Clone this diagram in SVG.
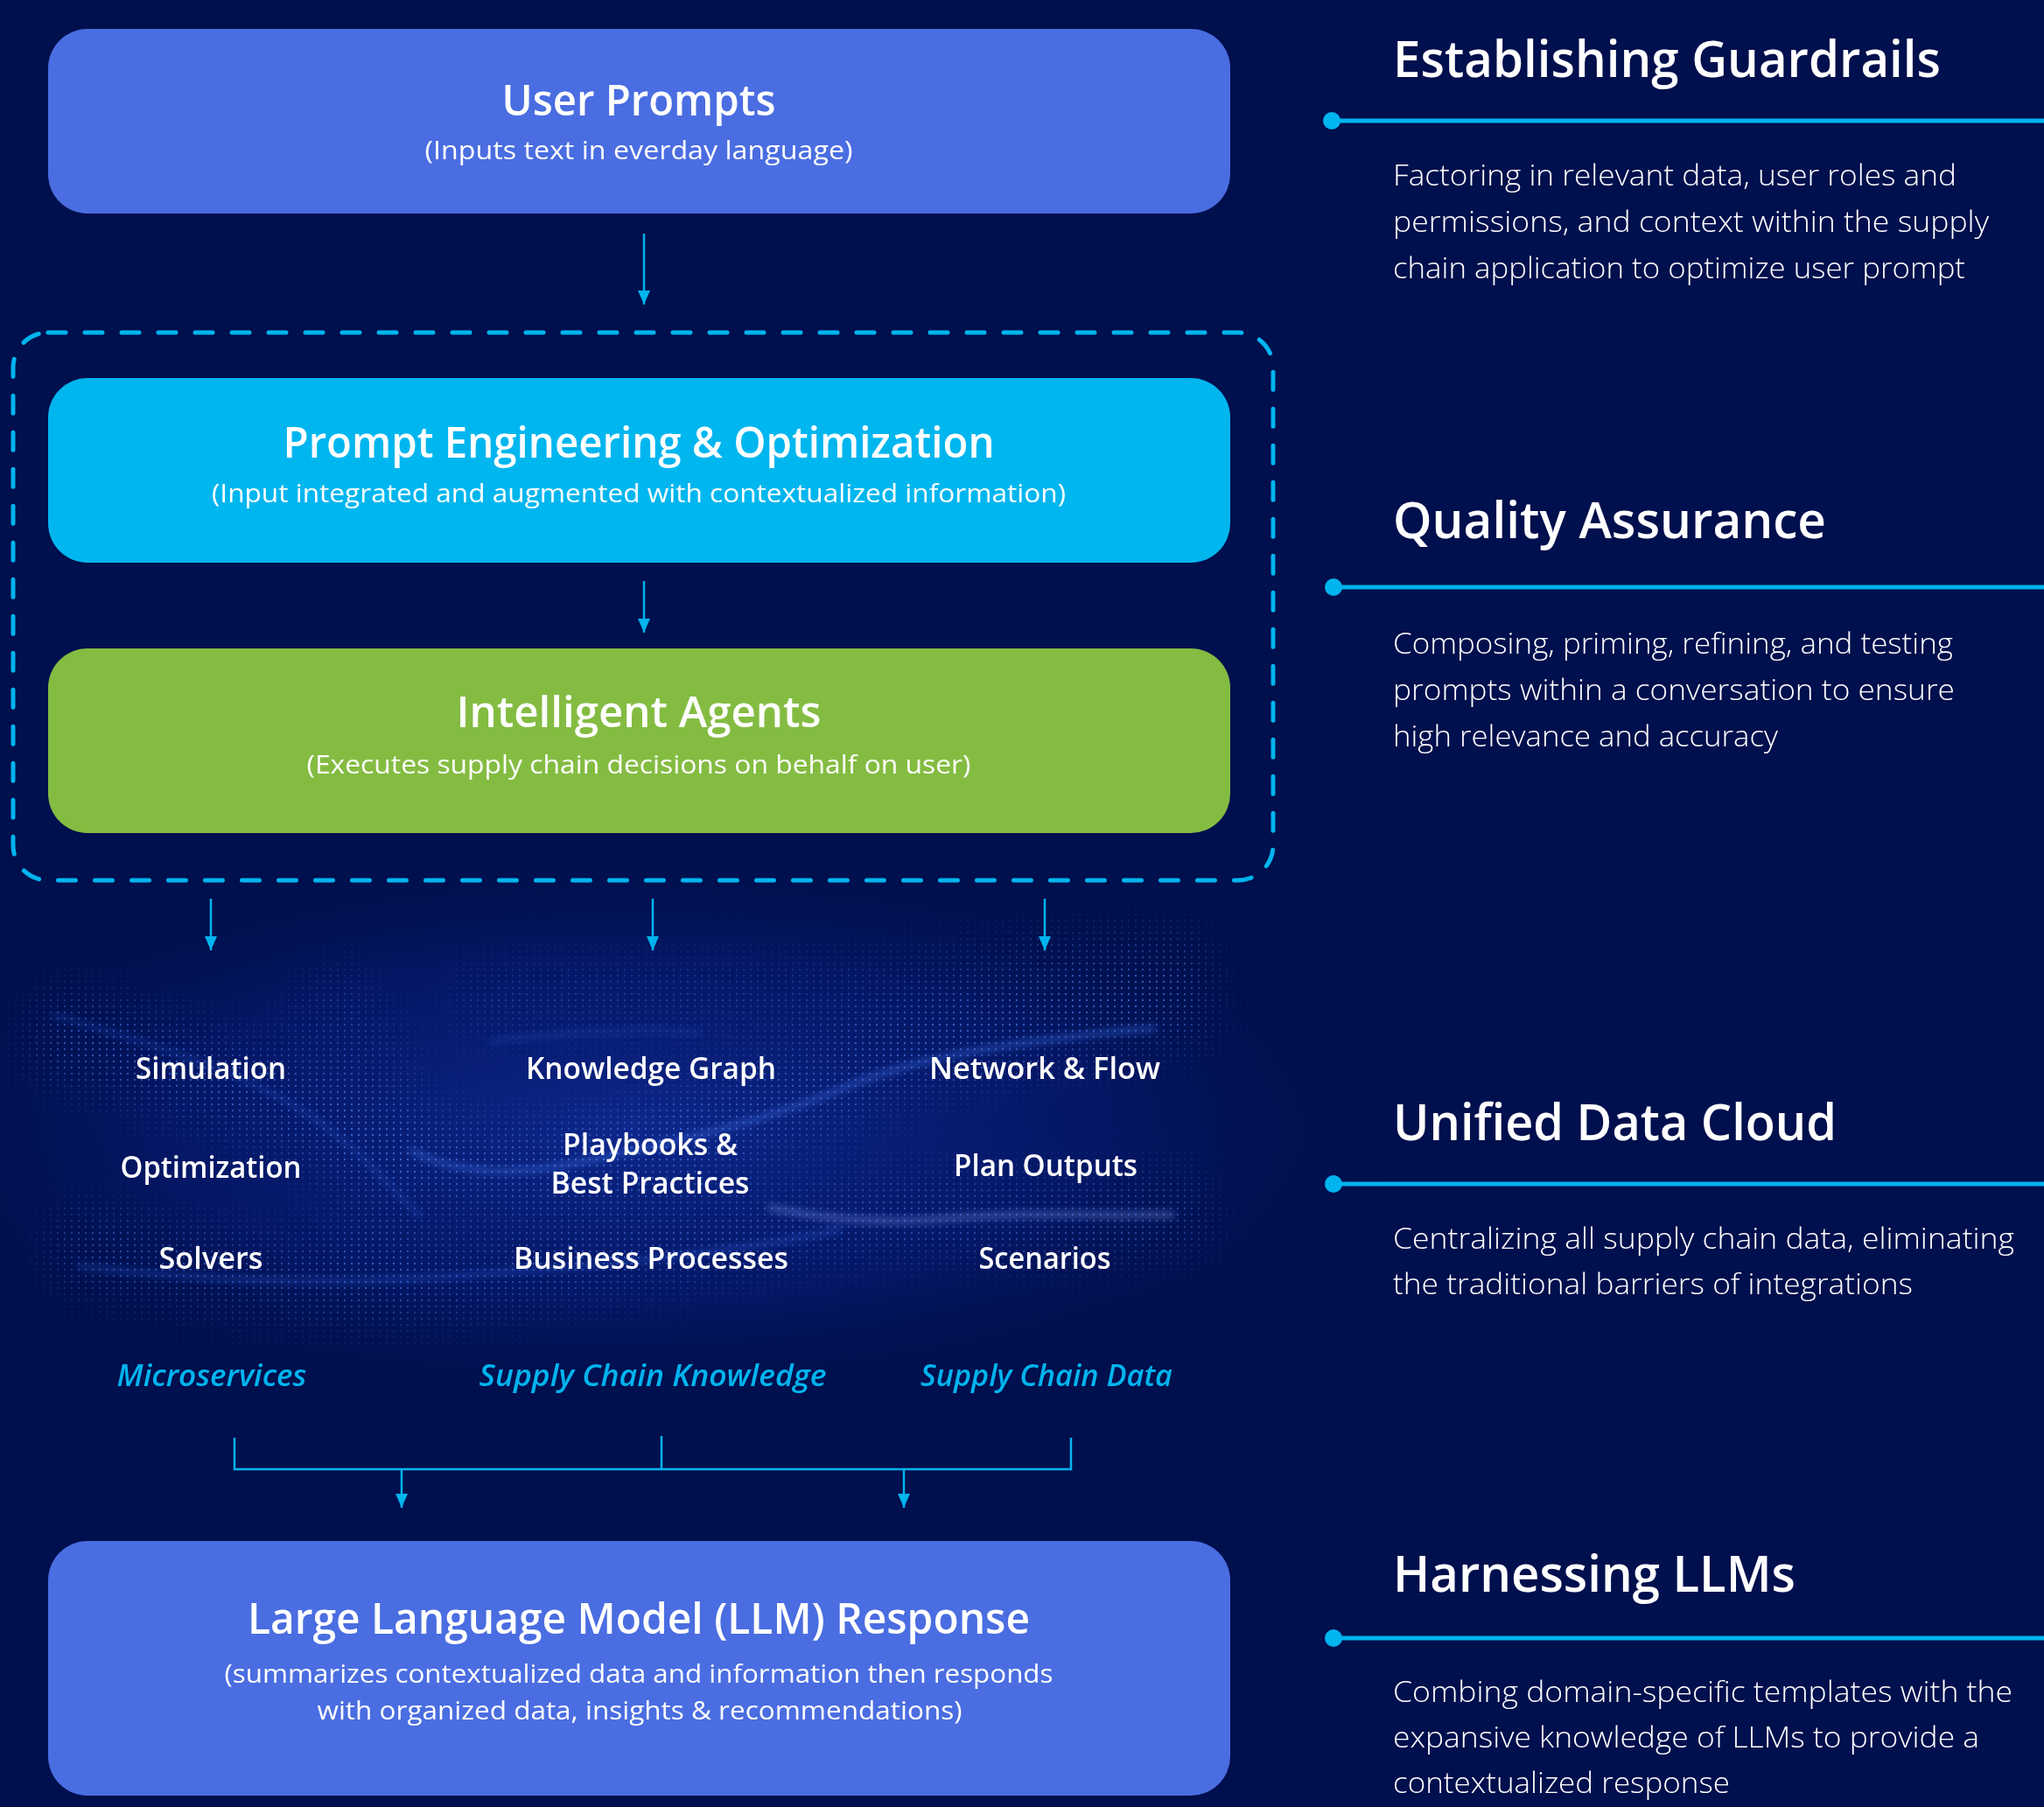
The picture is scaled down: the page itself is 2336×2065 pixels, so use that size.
<svg xmlns="http://www.w3.org/2000/svg" width="2336" height="2065" viewBox="0 0 2336 2065">
<style>
.bg{fill:#000F4D}
.box{stroke:none}
.t{font-family:"Open Sans","Noto Sans",sans-serif;fill:#fff;text-anchor:middle}
.tt{font-size:48px;font-weight:600}
.ts{font-size:30px;font-weight:400}
.col{font-size:34px;font-weight:600}
.cat{font-size:34px;font-weight:600;font-style:italic;fill:#00B4EE}
.rh{font-family:"Open Sans","Noto Sans",sans-serif;fill:#fff;font-size:58px;font-weight:600}
.rb{font-family:"Open Sans","Noto Sans",sans-serif;fill:#fff;font-size:33px;font-weight:300}
.conn{stroke:#00B4EE;stroke-width:2.5;fill:none}
.rule{stroke:#00B4EE;stroke-width:5}
.dot{fill:#00B4EE}
</style>
<defs>
<marker id="ah" markerWidth="16" markerHeight="14" refX="16" refY="7" orient="auto" markerUnits="userSpaceOnUse" viewBox="0 0 16 14">
<path d="M0,0 L16,7 L0,14 Z" fill="#00B4EE"/>
</marker>
<radialGradient id="glow" cx="0.5" cy="0.5" r="0.5">
<stop offset="0" stop-color="#1a3fc8" stop-opacity="0.5"/>
<stop offset="0.6" stop-color="#0f2aa0" stop-opacity="0.28"/>
<stop offset="1" stop-color="#000F4D" stop-opacity="0"/>
</radialGradient>
<pattern id="dots" width="8" height="7" patternUnits="userSpaceOnUse">
<circle cx="2" cy="2" r="1.2" fill="#5d8dff"/>
</pattern>
<filter id="blur30" x="-30%" y="-80%" width="160%" height="260%"><feGaussianBlur stdDeviation="28"/></filter>
<filter id="blur4" x="-10%" y="-50%" width="120%" height="200%"><feGaussianBlur stdDeviation="4"/></filter>
<mask id="wm" maskUnits="userSpaceOnUse" x="0" y="900" width="1700" height="800">
<g fill="none" stroke="#fff" filter="url(#blur30)">
<path d="M40,1180 C200,1200 380,1300 520,1330 C700,1360 900,1250 1050,1200 C1200,1160 1300,1150 1380,1140" stroke-width="100" stroke-opacity="0.8"/>
<path d="M60,1420 C200,1450 400,1480 600,1450 C800,1420 950,1380 1100,1390 C1250,1400 1320,1390 1380,1380" stroke-width="90" stroke-opacity="0.7"/>
<path d="M350,1130 C420,1200 460,1300 420,1470" stroke-width="110" stroke-opacity="0.5"/>
<path d="M520,1150 C700,1130 900,1160 1100,1120 C1250,1090 1330,1100 1380,1110" stroke-width="80" stroke-opacity="0.45"/>
</g>
</mask>
</defs>
<rect class="bg" x="0" y="0" width="2336" height="2065"/>
<g id="wave-background">
<ellipse cx="720" cy="1290" rx="900" ry="330" fill="url(#glow)"/>
<rect x="0" y="900" width="1700" height="800" fill="url(#dots)" mask="url(#wm)" opacity="0.7"/>
<g fill="none" filter="url(#blur4)" stroke-linecap="round">
<path d="M470,1315 C530,1345 600,1345 700,1320 C820,1295 900,1270 960,1245 C1040,1210 1150,1190 1320,1175" stroke="#4c86ff" stroke-width="5" opacity="0.5"/>
<path d="M880,1380 C950,1395 1020,1398 1090,1392 C1180,1385 1260,1390 1340,1388" stroke="#8fa6ff" stroke-width="6" opacity="0.45"/>
<path d="M90,1447 C250,1465 400,1470 560,1455 C700,1445 850,1430 960,1405" stroke="#3f78ff" stroke-width="5" opacity="0.35"/>
<path d="M60,1160 C150,1185 260,1220 330,1260 C400,1300 440,1350 480,1390" stroke="#3f78ff" stroke-width="4" opacity="0.3"/>
<path d="M560,1190 C640,1180 720,1175 800,1180" stroke="#3f78ff" stroke-width="4" opacity="0.28"/>
</g>
</g>
<g id="connectors">
<line class="conn" x1="736" y1="267" x2="736" y2="348" marker-end="url(#ah)"/>
<line class="conn" x1="736" y1="664" x2="736" y2="723" marker-end="url(#ah)"/>
<line class="conn" x1="241" y1="1027" x2="241" y2="1086" marker-end="url(#ah)"/>
<line class="conn" x1="746" y1="1027" x2="746" y2="1086" marker-end="url(#ah)"/>
<line class="conn" x1="1194" y1="1027" x2="1194" y2="1086" marker-end="url(#ah)"/>
<polyline class="conn" points="268,1643 268,1679 1224,1679 1224,1643"/>
<line class="conn" x1="756" y1="1641" x2="756" y2="1679"/>
<line class="conn" x1="459" y1="1679" x2="459" y2="1723" marker-end="url(#ah)"/>
<line class="conn" x1="1033" y1="1679" x2="1033" y2="1723" marker-end="url(#ah)"/>
</g>
<g id="node-user-prompts">
<rect class="box" x="55" y="33" width="1351" height="211" rx="45" fill="#4A6DE1"/>
<text class="t tt" x="730" y="132" textLength="313" lengthAdjust="spacingAndGlyphs">User Prompts</text>
<text class="t ts" x="730" y="182" textLength="489" lengthAdjust="spacingAndGlyphs">(Inputs text in everday language)</text>
</g>
<g id="group-dashed">
<rect x="15" y="380" width="1440" height="626" rx="40" fill="none" stroke="#00B4EE" stroke-width="5" stroke-dasharray="20 22" stroke-linecap="round"/>
</g>
<g id="node-prompt-engineering">
<rect class="box" x="55" y="432" width="1351" height="211" rx="45" fill="#00B6EF"/>
<text class="t tt" x="730" y="523" textLength="813" lengthAdjust="spacingAndGlyphs">Prompt Engineering &amp; Optimization</text>
<text class="t ts" x="730" y="574" textLength="976" lengthAdjust="spacingAndGlyphs">(Input integrated and augmented with contextualized information)</text>
</g>
<g id="node-intelligent-agents">
<rect class="box" x="55" y="741" width="1351" height="211" rx="45" fill="#84BC42"/>
<text class="t tt" x="730" y="831" textLength="417" lengthAdjust="spacingAndGlyphs">Intelligent Agents</text>
<text class="t ts" x="730" y="884" textLength="759" lengthAdjust="spacingAndGlyphs">(Executes supply chain decisions on behalf on user)</text>
</g>
<g id="node-microservices">
<text class="t col" x="241" y="1233" textLength="172" lengthAdjust="spacingAndGlyphs">Simulation</text>
<text class="t col" x="241" y="1346" textLength="207" lengthAdjust="spacingAndGlyphs">Optimization</text>
<text class="t col" x="241" y="1450" textLength="119" lengthAdjust="spacingAndGlyphs">Solvers</text>
<text class="t cat" x="242" y="1584" textLength="217" lengthAdjust="spacingAndGlyphs">Microservices</text>
</g>
<g id="node-supply-chain-knowledge">
<text class="t col" x="744" y="1233" textLength="286" lengthAdjust="spacingAndGlyphs">Knowledge Graph</text>
<text class="t col" x="743" y="1320" textLength="200" lengthAdjust="spacingAndGlyphs">Playbooks &amp;</text>
<text class="t col" x="743" y="1364" textLength="227" lengthAdjust="spacingAndGlyphs">Best Practices</text>
<text class="t col" x="744" y="1450" textLength="314" lengthAdjust="spacingAndGlyphs">Business Processes</text>
<text class="t cat" x="746" y="1584" textLength="397" lengthAdjust="spacingAndGlyphs">Supply Chain Knowledge</text>
</g>
<g id="node-supply-chain-data">
<text class="t col" x="1194" y="1233" textLength="264" lengthAdjust="spacingAndGlyphs">Network &amp; Flow</text>
<text class="t col" x="1195" y="1344" textLength="210" lengthAdjust="spacingAndGlyphs">Plan Outputs</text>
<text class="t col" x="1194" y="1450" textLength="151" lengthAdjust="spacingAndGlyphs">Scenarios</text>
<text class="t cat" x="1196" y="1584" textLength="288" lengthAdjust="spacingAndGlyphs">Supply Chain Data</text>
</g>
<g id="node-llm-response">
<rect class="box" x="55" y="1761" width="1351" height="291" rx="45" fill="#4A6DE1"/>
<text class="t tt" x="730" y="1867" textLength="894" lengthAdjust="spacingAndGlyphs">Large Language Model (LLM) Response</text>
<text class="t ts" x="730" y="1923" textLength="947" lengthAdjust="spacingAndGlyphs">(summarizes contextualized data and information then responds</text>
<text class="t ts" x="731" y="1965" textLength="737" lengthAdjust="spacingAndGlyphs">with organized data, insights &amp; recommendations)</text>
</g>
<g id="section-guardrails">
<text class="rh" x="1592" y="88" textLength="626" lengthAdjust="spacingAndGlyphs">Establishing Guardrails</text>
<line class="rule" x1="1522" y1="138" x2="2336" y2="138"/>
<circle class="dot" cx="1522" cy="138" r="10"/>
<text class="rb" x="1592" y="212" textLength="644" lengthAdjust="spacingAndGlyphs">Factoring in relevant data, user roles and</text>
<text class="rb" x="1592" y="265" textLength="681" lengthAdjust="spacingAndGlyphs">permissions, and context within the supply</text>
<text class="rb" x="1592" y="318" textLength="654" lengthAdjust="spacingAndGlyphs">chain application to optimize user prompt</text>
</g>
<g id="section-quality">
<text class="rh" x="1592" y="615" textLength="495" lengthAdjust="spacingAndGlyphs">Quality Assurance</text>
<line class="rule" x1="1524" y1="671" x2="2336" y2="671"/>
<circle class="dot" cx="1524" cy="671" r="10"/>
<text class="rb" x="1592" y="747" textLength="640" lengthAdjust="spacingAndGlyphs">Composing, priming, refining, and testing</text>
<text class="rb" x="1592" y="800" textLength="642" lengthAdjust="spacingAndGlyphs">prompts within a conversation to ensure</text>
<text class="rb" x="1592" y="853" textLength="440" lengthAdjust="spacingAndGlyphs">high relevance and accuracy</text>
</g>
<g id="section-data-cloud">
<text class="rh" x="1592" y="1303" textLength="507" lengthAdjust="spacingAndGlyphs">Unified Data Cloud</text>
<line class="rule" x1="1524" y1="1353" x2="2336" y2="1353"/>
<circle class="dot" cx="1524" cy="1353" r="10"/>
<text class="rb" x="1592" y="1427" textLength="710" lengthAdjust="spacingAndGlyphs">Centralizing all supply chain data, eliminating</text>
<text class="rb" x="1592" y="1479" textLength="594" lengthAdjust="spacingAndGlyphs">the traditional barriers of integrations</text>
</g>
<g id="section-llms">
<text class="rh" x="1592" y="1819" textLength="460" lengthAdjust="spacingAndGlyphs">Harnessing LLMs</text>
<line class="rule" x1="1524" y1="1872" x2="2336" y2="1872"/>
<circle class="dot" cx="1524" cy="1872" r="10"/>
<text class="rb" x="1592" y="1945" textLength="708" lengthAdjust="spacingAndGlyphs">Combing domain-specific templates with the</text>
<text class="rb" x="1592" y="1997" textLength="670" lengthAdjust="spacingAndGlyphs">expansive knowledge of LLMs to provide a</text>
<text class="rb" x="1592" y="2049" textLength="385" lengthAdjust="spacingAndGlyphs">contextualized response</text>
</g>
</svg>
